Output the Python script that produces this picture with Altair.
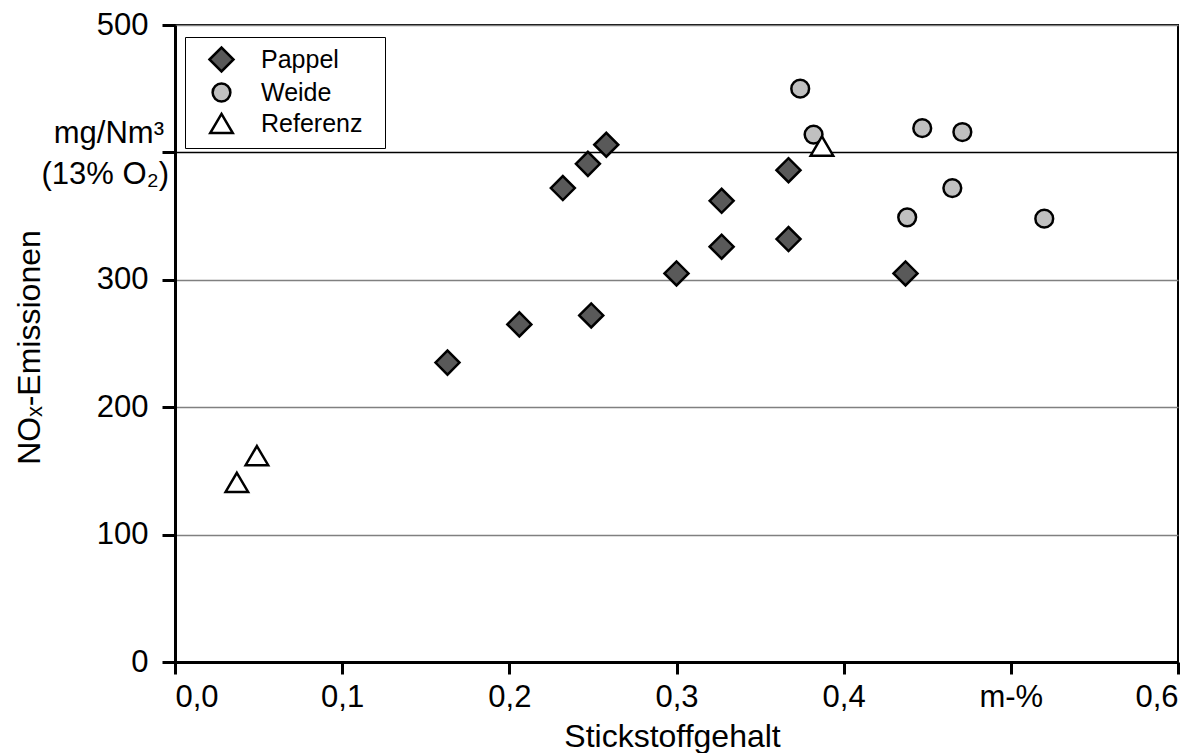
import altair as alt
import pandas as pd

# ---- data ----
sorten = ["Pappel", "Weide", "Referenz"]

pappel_n = [0.163, 0.206, 0.232, 0.247, 0.258, 0.249, 0.300, 0.327, 0.327, 0.367, 0.367, 0.437]
pappel_nox = [235, 265, 372, 391, 406, 272, 305, 362, 326, 386, 332, 305]

weide_n = [0.374, 0.382, 0.447, 0.471, 0.465, 0.438, 0.520]
weide_nox = [450, 414, 419, 416, 372, 349, 348]

ref_n = [0.037, 0.049, 0.387]
ref_nox = [141, 162, 405]

x_ticks = [0.0, 0.1, 0.2, 0.3, 0.4, 0.5, 0.6]
y_ticks = [0, 100, 200, 300, 400, 500]

unit_line1 = "mg/Nm\u00b3"
unit_line2 = "(13% O\u2082)"

# ---- styles ----
fills = ["#595959", "#c0c0c0", "#ffffff"]
strokes = ["black", "black", "black"]
shapes = [
    "M-1,0L0,-1L1,0L0,1Z",
    "M-0.74,0A0.74,0.74,0,1,0,0.74,0A0.74,0.74,0,1,0,-0.74,0Z",
    "M0,-0.8L0.94,0.8L-0.94,0.8Z",
]
FONT = "Liberation Sans"

rows = []
for s, xs, ys in [("Pappel", pappel_n, pappel_nox), ("Weide", weide_n, weide_nox), ("Referenz", ref_n, ref_nox)]:
    for a, b in zip(xs, ys):
        rows.append({"Sorte": s, "n": a, "nox": b})
df = pd.DataFrame(rows)

legend = alt.Legend(
    orient="none", legendX=10, legendY=12,
    title="\u00a0", titleOrient="right", titlePadding=14, titleFontSize=25, titleFont=FONT,
    labelFontSize=25, labelFont=FONT, labelColor="black",
    symbolSize=576, symbolStrokeWidth=2.5, symbolOpacity=1,
    strokeColor="black", fillColor="white", padding=9, rowPadding=1,
    symbolOffset=14, labelOffset=26,
)

x_enc = alt.X(
    "n:Q",
    scale=alt.Scale(domain=[0, 0.6], nice=False, zero=False),
    axis=alt.Axis(
        values=x_ticks, title="Stickstoffgehalt", grid=False,
        labelExpr="abs(datum.value - 0.5) < 1e-9 ? 'm-%' : replace(format(datum.value, '.1f'), '.', ',')",
        tickSize=12, labelPadding=8, titleX=497, titleY=84, titleBaseline="alphabetic",
    ),
)
y_enc = alt.Y(
    "nox:Q",
    scale=alt.Scale(domain=[0, 500], nice=False),
    axis=alt.Axis(
        values=y_ticks, title="NO\u2093-Emissionen",
        labelExpr="datum.value == 400 ? '' : datum.label",
        tickSize=13, labelPadding=14,
        grid=True,
        gridColor=alt.condition("datum.value == 400", alt.value("black"), alt.value("#808080")),
        gridWidth=1.3,
        titleX=-146, titleY=322, titleAngle=270, titleAlign="center", titleBaseline="middle",
    ),
)

points = alt.Chart(df).mark_point(
    filled=True, size=576, strokeWidth=2.5, opacity=1
).encode(
    x=x_enc,
    y=y_enc,
    fill=alt.Fill("Sorte:N", scale=alt.Scale(domain=sorten, range=fills), legend=legend),
    shape=alt.Shape("Sorte:N", scale=alt.Scale(domain=sorten, range=shapes), legend=legend),
    stroke=alt.Stroke("Sorte:N", scale=alt.Scale(domain=sorten, range=strokes), legend=legend),
)

unit1 = alt.Chart().mark_text(
    text=unit_line1, align="right", baseline="alphabetic", dx=-11, dy=-9,
    fontSize=31, font=FONT, color="black",
).encode(x=alt.datum(0), y=alt.datum(400))

unit2 = alt.Chart().mark_text(
    text=unit_line2, align="right", baseline="alphabetic", dx=-6, dy=32,
    fontSize=31, font=FONT, color="black",
).encode(x=alt.datum(0), y=alt.datum(400))

chart = alt.layer(points, unit1, unit2).properties(
    width=1003, height=637,
    autosize=alt.AutoSizeParams(type="none"),
    padding={"left": 167, "top": 17, "right": 9, "bottom": 91},
).configure(
    font=FONT,
).configure_view(
    stroke="black", strokeWidth=2,
).configure_axis(
    labelFont=FONT, titleFont=FONT, labelFontSize=31, titleFontSize=32,
    labelColor="black", titleColor="black", titleFontWeight="normal",
    domainColor="black", domainWidth=3, tickColor="black", tickWidth=3,
)

chart.save("out.html", embed_options={"renderer": "svg", "actions": False})
